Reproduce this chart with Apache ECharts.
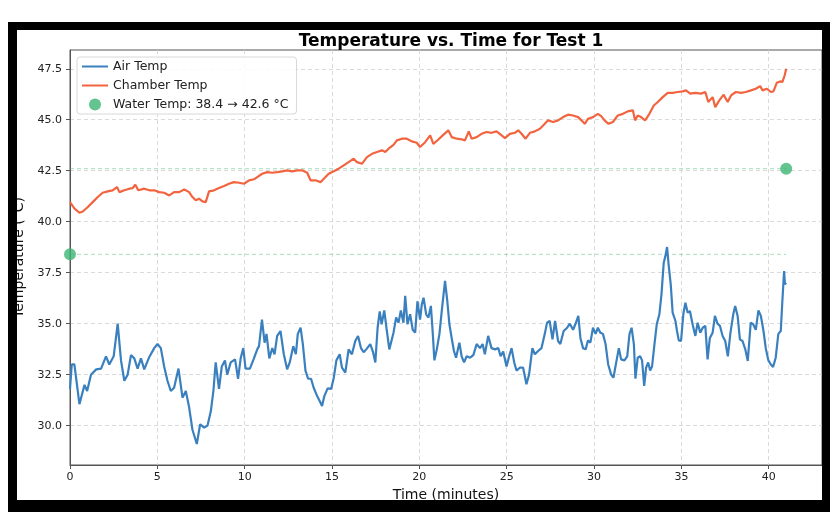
<!DOCTYPE html>
<html><head><meta charset="utf-8">
<script src="https://cdn.jsdelivr.net/npm/echarts@6/dist/echarts.min.js"></script>
<style>html,body{margin:0;padding:0;background:#fff}#c{width:830px;height:520px}</style>
</head><body><div id="c"></div>
<script>
const airTime = [0,0.1,0.25,0.54,0.83,0.98,1.2,1.5,1.78,2.06,2.25,2.5,2.73,2.92,3.11,3.3,3.49,3.68,3.87,4.06,4.25,4.54,4.82,5.01,5.2,5.39,5.58,5.77,5.96,6.21,6.44,6.63,6.82,7.01,7.26,7.45,7.68,7.87,8.06,8.21,8.34,8.53,8.69,8.87,9.0,9.2,9.45,9.62,9.77,9.92,10.05,10.3,10.53,10.72,10.82,10.99,11.14,11.25,11.41,11.58,11.71,11.86,12.05,12.24,12.43,12.58,12.78,12.93,13.04,13.2,13.33,13.48,13.63,13.8,13.95,14.15,14.3,14.43,14.56,14.75,14.95,15.1,15.25,15.44,15.57,15.76,15.95,16.14,16.33,16.49,16.66,16.81,16.96,17.19,17.34,17.48,17.61,17.73,17.84,17.99,18.14,18.28,18.39,18.52,18.67,18.81,18.94,19.09,19.19,19.32,19.47,19.62,19.76,19.89,20.04,20.14,20.24,20.39,20.52,20.66,20.77,20.86,21.0,21.15,21.28,21.47,21.6,21.72,21.85,21.98,22.1,22.29,22.42,22.56,22.71,22.9,23.09,23.28,23.47,23.62,23.75,23.94,24.13,24.33,24.52,24.65,24.8,24.99,25.14,25.28,25.43,25.56,25.75,25.94,26.13,26.28,26.47,26.61,26.8,26.99,27.18,27.31,27.46,27.62,27.77,27.94,28.07,28.26,28.46,28.61,28.8,28.93,29.1,29.22,29.37,29.52,29.65,29.79,29.94,30.09,30.22,30.36,30.51,30.66,30.81,30.98,31.11,31.27,31.42,31.55,31.74,31.9,32.03,32.15,32.28,32.37,32.5,32.64,32.75,32.87,32.98,33.1,33.21,33.32,33.46,33.59,33.74,33.86,33.99,34.08,34.18,34.27,34.39,34.5,34.66,34.75,34.85,34.98,35.11,35.23,35.36,35.49,35.64,35.8,35.93,36.08,36.22,36.37,36.5,36.63,36.79,36.92,37.07,37.21,37.36,37.51,37.66,37.81,37.97,38.08,38.22,38.35,38.5,38.66,38.8,38.97,39.11,39.26,39.41,39.55,39.7,39.83,39.98,40.12,40.25,40.4,40.55,40.69,40.78,40.88,40.93,41.0];
const airTemp = [31.8,33.0,33.0,31.05,32.0,31.7,32.5,32.76,32.8,33.4,33.0,33.4,35.0,33.2,32.2,32.5,33.46,33.3,32.8,33.3,32.76,33.37,33.8,34.0,33.8,32.9,32.2,31.7,31.86,32.8,31.37,31.7,30.9,29.8,29.1,30.07,29.9,30.0,30.7,31.7,33.1,31.8,32.9,33.2,32.5,33.1,33.25,32.3,33.3,33.8,32.8,32.8,33.3,33.74,33.9,35.2,34.07,34.5,33.3,33.8,33.5,34.4,34.64,33.5,32.76,33.1,33.9,33.5,34.5,34.8,34.0,32.7,32.3,32.3,31.86,31.45,31.2,30.96,31.45,31.83,31.8,32.35,33.2,33.5,32.84,32.6,33.74,33.5,34.15,34.4,33.8,33.6,33.74,34.0,33.63,33.1,34.8,35.6,34.97,35.65,34.64,33.74,33.66,34.56,35.3,35.05,35.65,35.05,36.36,34.97,35.46,34.7,34.56,36.1,35.2,35.95,36.27,35.46,35.3,35.87,34.5,33.2,33.74,34.5,35.6,37.1,36.1,34.97,34.3,33.66,33.33,34.07,33.4,33.1,33.4,33.33,33.46,34.0,33.8,34.0,33.5,34.4,33.8,33.74,33.8,33.4,33.63,32.9,33.4,33.8,33.1,32.7,32.84,32.84,32.03,32.5,33.8,33.5,33.66,33.8,34.5,35.05,35.13,34.23,35.13,34.15,34.0,34.64,34.8,35.0,34.7,34.97,35.38,34.3,33.8,33.74,34.18,34.07,34.8,34.5,34.8,34.56,34.5,34.0,33.0,32.5,32.35,33.1,33.8,33.25,33.2,33.4,34.5,34.8,34.0,32.3,33.33,33.4,33.2,31.95,32.84,33.1,32.7,32.9,34.0,34.97,35.46,36.44,37.99,38.3,38.76,37.9,36.93,35.54,35.13,34.64,34.18,34.15,35.46,36.03,35.54,35.62,34.97,34.4,35.05,34.56,34.8,34.89,33.25,34.3,34.56,35.38,35.0,34.89,34.4,34.15,33.4,34.56,35.46,35.87,35.38,34.23,34.15,33.74,33.17,35.05,34.97,34.7,35.65,35.38,34.64,33.8,33.2,33.0,32.88,33.33,34.5,34.64,36.1,37.58,36.93,37.0];
const chamberTime = [0,0.26,0.54,0.73,1.02,1.3,1.59,1.87,2.16,2.44,2.69,2.83,3.11,3.4,3.59,3.74,3.91,4.25,4.54,4.82,5.11,5.39,5.68,5.96,6.25,6.54,6.82,7.01,7.2,7.39,7.58,7.77,7.96,8.25,8.53,8.82,9.1,9.39,9.68,9.96,10.25,10.53,10.72,11.0,11.29,11.58,11.86,12.15,12.43,12.72,13.0,13.29,13.58,13.77,14.05,14.34,14.53,14.81,15.1,15.38,15.67,15.95,16.24,16.43,16.71,17.0,17.29,17.57,17.86,18.05,18.24,18.52,18.71,19.0,19.28,19.57,19.85,20.04,20.33,20.62,20.8,21.09,21.37,21.66,21.85,22.14,22.42,22.61,22.83,22.99,23.28,23.56,23.85,24.13,24.42,24.71,24.9,25.18,25.47,25.66,25.85,26.08,26.33,26.61,26.9,27.18,27.37,27.66,27.94,28.23,28.51,28.8,29.09,29.28,29.47,29.66,29.94,30.22,30.41,30.6,30.83,31.08,31.36,31.65,31.93,32.22,32.35,32.5,32.69,32.92,33.17,33.42,33.65,33.93,34.22,34.5,34.79,35.07,35.26,35.51,35.78,36.12,36.37,36.54,36.79,36.94,37.17,37.42,37.65,37.84,38.12,38.41,38.69,38.98,39.26,39.51,39.65,39.89,40.12,40.27,40.46,40.65,40.78,40.91,41.0];
const chamberTemp = [40.96,40.64,40.44,40.5,40.72,40.96,41.21,41.42,41.49,41.54,41.7,41.45,41.54,41.62,41.65,41.81,41.54,41.62,41.54,41.54,41.45,41.42,41.29,41.45,41.45,41.58,41.45,41.21,41.05,41.13,41.0,40.96,41.49,41.54,41.65,41.75,41.86,41.94,41.91,41.86,42.03,42.08,42.19,42.35,42.43,42.4,42.43,42.47,42.52,42.47,42.52,42.52,42.4,42.03,42.03,41.94,42.11,42.35,42.47,42.6,42.76,42.92,43.09,42.92,42.84,43.17,43.33,43.42,43.5,43.42,43.58,43.77,43.99,44.07,44.07,43.94,43.87,43.66,43.9,44.23,43.82,44.03,44.26,44.48,44.15,44.07,44.04,43.99,44.43,44.07,44.15,44.31,44.4,44.36,44.43,44.23,44.1,44.31,44.36,44.48,44.31,44.07,44.36,44.43,44.56,44.8,44.97,44.89,44.97,45.13,45.25,45.21,45.13,44.97,44.8,45.05,45.13,45.29,45.18,44.97,44.8,44.89,45.21,45.29,45.41,45.46,44.97,45.21,45.13,44.97,45.29,45.7,45.87,46.11,46.32,46.32,46.36,46.39,46.44,46.28,46.32,46.28,46.36,45.87,46.11,45.62,45.95,46.23,45.87,46.19,46.36,46.32,46.36,46.44,46.52,46.65,46.44,46.52,46.36,46.39,46.81,46.88,46.85,47.17,47.5];
const waterTime = [0, 41];
const waterTemp = [38.4, 42.6];
const xTicks = [0,5,10,15,20,25,30,35,40];
const yTicks = [30.0,32.5,35.0,37.5,40.0,42.5,45.0,47.5];
const labels = {title:'Temperature vs. Time for Test 1', x:'Time (minutes)', y:'Temperature (°C)',
  air:'Air Temp', chamber:'Chamber Temp', water:'Water Temp: 38.4 → 42.6 °C'};

const FONT = 'DejaVu Sans';
const zip = (a,b)=>a.map((v,i)=>[v,b[i]]);
const gridDash = {color:'#d0d0d0', type:[4,3], width:0.8};
const lineIcon = 'path://M0,0 M26,12 M0,5 L26,5 L26,7 L0,7 Z';
const chart = echarts.init(document.getElementById('c'), null, {renderer:'canvas'});
chart.setOption({
  animation:false,
  backgroundColor:'#fff',
  textStyle:{fontFamily:FONT},
  title:{text:labels.title, left:446, top:28, textAlign:'center',
    textStyle:{fontFamily:FONT, fontWeight:'bold', fontSize:17, color:'#000'}},
  grid:{left:70, right:8, top:50, bottom:55, show:true, borderColor:'#555', borderWidth:1},
  legend:{orient:'vertical', left:77, top:57, padding:[3,8,3,5], itemGap:6,
    backgroundColor:'rgba(255,255,255,0.85)', borderColor:'#d8d8d8', borderWidth:1, borderRadius:3,
    itemWidth:26, itemHeight:12,
    textStyle:{fontFamily:FONT, fontSize:12.5, color:'#222'},
    data:[{name:labels.air, icon:lineIcon},{name:labels.chamber, icon:lineIcon},{name:labels.water, icon:'circle'}]},
  xAxis:{type:'value', min:0, max:43.05, interval:5,
    name:labels.x, nameLocation:'middle', nameGap:23,
    nameTextStyle:{fontFamily:FONT, fontSize:14, color:'#111'},
    axisLine:{show:true, onZero:false, lineStyle:{color:'#555', width:1}},
    axisTick:{show:true, length:4, inside:false, lineStyle:{color:'#555'}, customValues:xTicks},
    axisLabel:{fontFamily:FONT, fontSize:11, color:'#222', margin:7, customValues:xTicks},
    splitLine:{show:true, lineStyle:gridDash}},
  yAxis:{type:'value', min:28.07, max:48.42,
    name:labels.y, nameLocation:'middle', nameGap:41,
    nameTextStyle:{fontFamily:FONT, fontSize:14, color:'#111'},
    axisLine:{show:true, onZero:false, lineStyle:{color:'#555', width:1}},
    axisTick:{show:true, length:4, lineStyle:{color:'#555'}, customValues:yTicks},
    axisLabel:{fontFamily:FONT, fontSize:11, color:'#222', margin:8, customValues:yTicks,
      formatter:v=>v.toFixed(1)},
    splitLine:{show:true, lineStyle:gridDash}},
  series:[
    {name:'w1', type:'line', data:zip(waterTime,[waterTemp[0],waterTemp[0]]), symbol:'none', silent:true,
      lineStyle:{color:'rgba(60,179,113,0.45)', width:1, type:[4,3]}, z:1},
    {name:'w2', type:'line', data:zip(waterTime,[waterTemp[1],waterTemp[1]]), symbol:'none', silent:true,
      lineStyle:{color:'rgba(60,179,113,0.45)', width:1, type:[4,3]}, z:1},
    {name:labels.air, type:'line', data:zip(airTime,airTemp), symbol:'none',
      lineStyle:{color:'#3a80bf', width:2.2}, itemStyle:{color:'#3a80bf'}, z:3},
    {name:labels.chamber, type:'line', data:zip(chamberTime,chamberTemp), symbol:'none',
      lineStyle:{color:'#f2643f', width:2.2}, itemStyle:{color:'#f2643f'}, z:3},
    {name:labels.water, type:'scatter', data:zip(waterTime,waterTemp), symbolSize:12,
      itemStyle:{color:'#3cb574'}, z:4}
  ],
  graphic:[
    {type:'rect', shape:{x:8,y:22,width:822,height:8}, style:{fill:'#000'}, z:100},
    {type:'rect', shape:{x:8,y:22,width:9,height:490}, style:{fill:'#000'}, z:100},
    {type:'rect', shape:{x:822,y:22,width:8,height:490}, style:{fill:'#000'}, z:100},
    {type:'rect', shape:{x:8,y:500,width:822,height:12}, style:{fill:'#000'}, z:100}
  ]
});
</script></body></html>
